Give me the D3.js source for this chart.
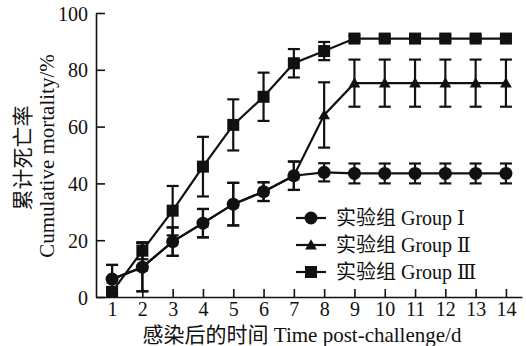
<!DOCTYPE html>
<html>
<head>
<meta charset="utf-8">
<script src="https://cdn.jsdelivr.net/npm/d3@7"></script>
<style>
  body { margin: 0; background: #fff; }
  text { font-family: "Liberation Serif", "DejaVu Serif", "Noto Sans CJK SC", serif; fill: #111; }
</style>
</head>
<body>
<div id="vis"></div>
<script>
const WIDTH = 526;
const HEIGHT = 346;

// days post-challenge
const days = [1, 2, 3, 4, 5, 6, 7, 8, 9, 10, 11, 12, 13, 14];

// cumulative mortality (%) and error (+/-) for each group
const group1 = [6.3, 10.5, 19.5, 26, 32.7, 37.1, 42.7, 43.9, 43.5, 43.5, 43.5, 43.5, 43.5, 43.5];
const group1Err = [5, 8.5, 5, 5, 7.5, 3.3, 5, 3.2, 3.5, 3.5, 3.5, 3.5, 3.5, 3.5];
const group2 = [6.3, 10.5, 19.5, 26, 32.7, 37.1, 42.7, 64.1, 75.3, 75.3, 75.3, 75.3, 75.3, 75.3];
const group2Err = [5, 8.5, 5, 5, 7.5, 3.3, 5, 11.5, 8.3, 8.3, 8.3, 8.3, 8.3, 8.3];
const group3 = [1.8, 16.3, 30.4, 45.9, 60.6, 70.5, 82.3, 86.6, 91, 91, 91, 91, 91, 91];
const group3Err = [1.5, 3, 8.7, 10.5, 9, 8.5, 5, 3.2, 1, 1, 1, 1, 1, 1];

const seriesNames = ["实验组 Group Ⅰ", "实验组 Group Ⅱ", "实验组 Group Ⅲ"];
const yTicks = [0, 20, 40, 60, 80, 100];

const series = [
  {name: seriesNames[0], vals: group1, err: group1Err, shape: "circle"},
  {name: seriesNames[1], vals: group2, err: group2Err, shape: "triangle"},
  {name: seriesNames[2], vals: group3, err: group3Err, shape: "square"}
];

const svg = d3.select("#vis")
  .append("svg")
    .attr("width", WIDTH)
    .attr("height", HEIGHT);

const X_SCALE = d3.scaleLinear().domain([0.47, 14.53]).range([96, 522]);
const Y_SCALE = d3.scaleLinear().domain([0, 100]).range([297, 13]);

// axes, ticks point inward
const xAxis = svg.append("g")
  .attr("transform", "translate(0," + Y_SCALE(0) + ")")
  .call(d3.axisBottom(X_SCALE).tickValues(days).tickSizeInner(-8).tickSizeOuter(0).tickPadding(7));
const yAxis = svg.append("g")
  .attr("transform", "translate(" + X_SCALE(0.47) + ",0)")
  .call(d3.axisLeft(Y_SCALE).tickValues(yTicks).tickSizeInner(-9).tickSizeOuter(0).tickPadding(8));

[xAxis, yAxis].forEach(a => {
  a.selectAll("path, line").attr("stroke", "#111").attr("stroke-width", 1.6);
  a.selectAll("text").attr("font-size", "20px").attr("fill", "#111")
    .style("font-family", "'Liberation Serif', serif");
});
xAxis.selectAll("text").attr("dy", "0.6em");
yAxis.selectAll("text").attr("dy", "0.35em");

// axis titles
svg.append("text")
  .attr("x", 302).attr("y", 342)
  .attr("text-anchor", "middle")
  .attr("font-size", "21px")
  .text("感染后的时间 Time post-challenge/d");

svg.append("text")
  .attr("transform", "translate(30,158) rotate(-90)")
  .attr("text-anchor", "middle")
  .attr("font-size", "21px")
  .text("累计死亡率");
svg.append("text")
  .attr("transform", "translate(54,156) rotate(-90)")
  .attr("text-anchor", "middle")
  .attr("font-size", "21px")
  .text("Cumulative mortality/%");

function drawMarker(g, shape, x, y) {
  if (shape === "circle") {
    g.append("circle").attr("cx", x).attr("cy", y).attr("r", 6.5).attr("fill", "#111");
  } else if (shape === "square") {
    g.append("rect").attr("x", x - 6).attr("y", y - 6).attr("width", 12).attr("height", 12).attr("fill", "#111");
  } else {
    g.append("path")
      .attr("d", d3.symbol().type(d3.symbolTriangle).size(60)())
      .attr("transform", "translate(" + x + "," + (y + 1) + ")")
      .attr("fill", "#111");
  }
}

const line = d3.line()
  .x((d, i) => X_SCALE(days[i]))
  .y(d => Y_SCALE(d));

// draw group III first, group I on top
[2, 1, 0].forEach(k => {
  const s = series[k];
  const g = svg.append("g");
  g.append("path")
    .attr("d", line(s.vals))
    .attr("fill", "none")
    .attr("stroke", "#111")
    .attr("stroke-width", 2.2);
  s.vals.forEach((v, i) => {
    const x = X_SCALE(days[i]);
    const y1 = Y_SCALE(v + s.err[i]);
    const y2 = Y_SCALE(Math.max(0, v - s.err[i]));
    g.append("line").attr("x1", x).attr("x2", x).attr("y1", y1).attr("y2", y2)
      .attr("stroke", "#111").attr("stroke-width", 2.2);
    [y1, y2].forEach(yy => {
      g.append("line").attr("x1", x - 6).attr("x2", x + 6).attr("y1", yy).attr("y2", yy)
        .attr("stroke", "#111").attr("stroke-width", 2.2);
    });
    drawMarker(g, s.shape, x, Y_SCALE(v));
  });
});

// legend
const legend = svg.append("g");
series.forEach((s, i) => {
  const y = 218 + i * 27;
  legend.append("line").attr("x1", 296).attr("x2", 326).attr("y1", y).attr("y2", y)
    .attr("stroke", "#111").attr("stroke-width", 2.2);
  drawMarker(legend, s.shape, 311, y);
  legend.append("text")
    .attr("x", 336).attr("y", y).attr("dy", "0.36em")
    .attr("font-size", "20px")
    .text(s.name);
});
</script>
</body>
</html>
